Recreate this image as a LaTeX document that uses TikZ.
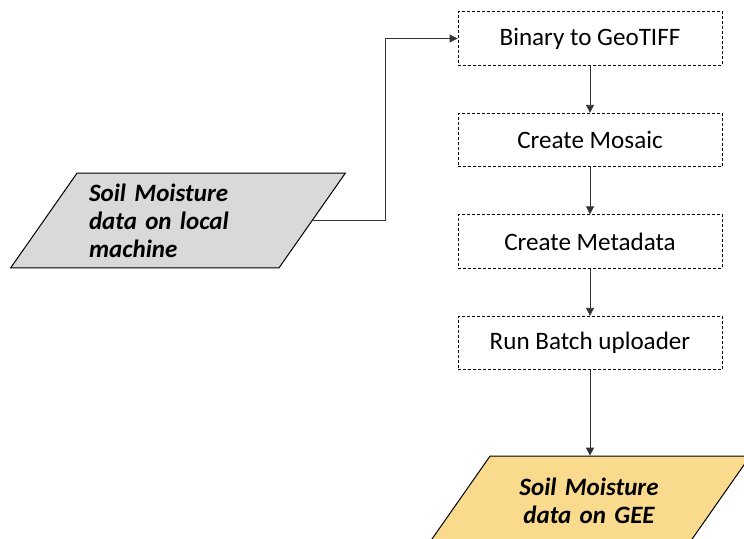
\documentclass[tikz,border=0pt]{standalone}
\usepackage{fontspec}
\setmainfont{Carlito}
\usetikzlibrary{arrows.meta,positioning,shapes.geometric}
\definecolor{datagrey}{RGB}{217,217,217}
\definecolor{datagold}{RGB}{250,219,142}
\tikzset{
  stepbox/.style={draw,dash pattern=on 3pt off 2pt,line width=0.9pt,
    minimum width=264pt,minimum height=53.5pt,inner sep=0pt,
    font=\fontsize{25.1}{30}\selectfont},
  datanode/.style={trapezium,trapezium left angle=55,trapezium right angle=125,
    draw,line width=1pt,inner xsep=12pt,
    font=\fontsize{25}{28}\selectfont\bfseries\itshape},
  flow/.style={draw=black!80,line width=0.9pt,-{Triangle[length=8pt,width=8pt]}},
}
\begin{document}
\begin{tikzpicture}[x=1pt,y=-1pt]
  \useasboundingbox (0,0) rectangle (744,538);
  % input data on the local machine
  \node[datanode,fill=datagrey,text width=178pt,align=left,inner ysep=10.5pt]
    (local) at (178,220.5) {Soil Moisture\\data on local\\machine};
  % processing steps
  \node[stepbox] (tiff) at (590,38.5) {Binary to GeoTIFF};
  \node[stepbox] (mosaic) at (590,140) {Create Mosaic};
  \node[stepbox] (meta) at (590,241.5) {Create Metadata};
  \node[stepbox] (upload) at (590,343) {Run Batch uploader};
  % result in GEE
  \node[datanode,fill=datagold,text width=174pt,align=center,inner ysep=21.5pt]
    (gee) at (589,500.5) {Soil Moisture\\data on GEE};
  \coordinate (knee) at (385,0);
  \draw[flow] (local.east) -- (local.east -| knee) |- (tiff.west);
  \draw[flow] (tiff) -- (mosaic);
  \draw[flow] (mosaic) -- (meta);
  \draw[flow] (meta) -- (upload);
  \draw[flow] (upload) -- (gee.north -| upload.south);
\end{tikzpicture}
\end{document}
